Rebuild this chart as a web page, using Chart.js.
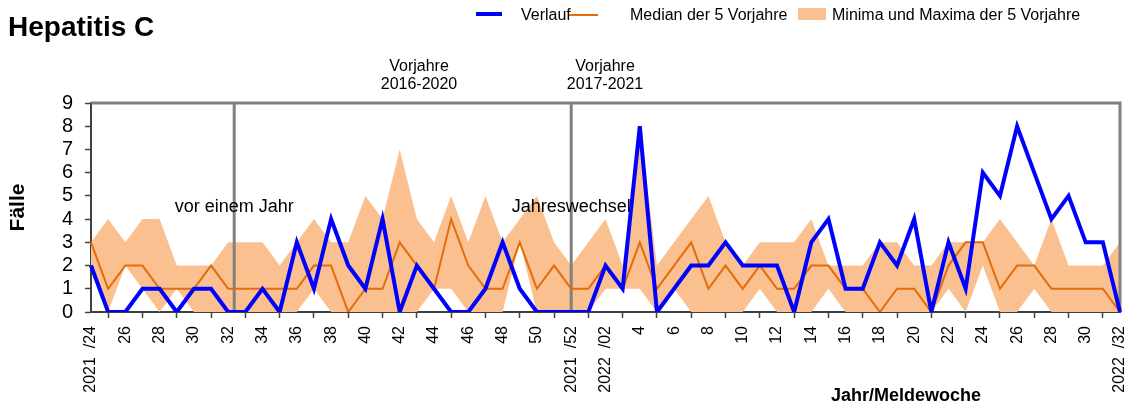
<!DOCTYPE html>
<html>
<head>
<meta charset="utf-8">
<script src="https://cdn.jsdelivr.net/npm/chart.js@4.4.0/dist/chart.umd.min.js"></script>
<style>
  html, body { margin: 0; padding: 0; background: #fff; }
  #wrap { position: relative; width: 1132px; height: 407px; }
</style>
</head>
<body>
<div id="wrap"><canvas id="chart" width="1132" height="407"></canvas></div>
<script>
// Meldewochen 2021/24 .. 2022/32
const weeks = [
    '2021/24', '2021/25', '2021/26', '2021/27', '2021/28', '2021/29', '2021/30', '2021/31', '2021/32', '2021/33',
    '2021/34', '2021/35', '2021/36', '2021/37', '2021/38', '2021/39', '2021/40', '2021/41', '2021/42', '2021/43',
    '2021/44', '2021/45', '2021/46', '2021/47', '2021/48', '2021/49', '2021/50', '2021/51', '2021/52',
    '2022/01', '2022/02', '2022/03', '2022/04', '2022/05', '2022/06', '2022/07', '2022/08', '2022/09', '2022/10',
    '2022/11', '2022/12', '2022/13', '2022/14', '2022/15', '2022/16', '2022/17', '2022/18', '2022/19', '2022/20',
    '2022/21', '2022/22', '2022/23', '2022/24', '2022/25', '2022/26', '2022/27', '2022/28', '2022/29', '2022/30',
    '2022/31', '2022/32'
];

const tickLabels = [
    '2021  /24', '', '26', '', '28', '', '30', '', '32', '', '34', '', '36', '', '38', '', '40', '', '42', '',
    '44', '', '46', '', '48', '', '50', '', '2021  /52', '', '2022  /02', '', '4', '', '6', '', '8', '', '10', '',
    '12', '', '14', '', '16', '', '18', '', '20', '', '22', '', '24', '', '26', '', '28', '', '30', '', '2022  /32'
];

const verlauf = [
    2, 0, 0, 1, 1, 0, 1, 1, 0, 0, 1, 0, 3, 1, 4, 2, 1, 4, 0, 2,
    1, 0, 0, 1, 3, 1, 0, 0, 0, 0, 2, 1, 8, 0, 1, 2, 2, 3, 2, 2,
    2, 0, 3, 4, 1, 1, 3, 2, 4, 0, 3, 1, 6, 5, 8, 6, 4, 5, 3, 3, 0
];

const median5 = [
    3, 1, 2, 2, 1, 1, 1, 2, 1, 1, 1, 1, 1, 2, 2, 0, 1, 1, 3, 2,
    1, 4, 2, 1, 1, 3, 1, 2, 1, 1, 2, 1, 3, 1, 2, 3, 1, 2, 1, 2,
    1, 1, 2, 2, 1, 1, 0, 1, 1, 0, 2, 3, 3, 1, 2, 2, 1, 1, 1, 1, 0
];

const min5 = [
    2, 0, 2, 1, 0, 1, 0, 0, 0, 0, 0, 0, 0, 1, 0, 0, 0, 0, 0, 0,
    1, 1, 0, 0, 0, 3, 0, 0, 0, 0, 1, 1, 1, 0, 1, 0, 0, 0, 0, 1,
    0, 0, 0, 1, 0, 0, 0, 0, 0, 0, 1, 0, 2, 0, 0, 1, 0, 0, 0, 0, 0
];

const max5 = [
    3, 4, 3, 4, 4, 2, 2, 2, 3, 3, 3, 2, 3, 4, 3, 3, 5, 4, 7, 4,
    3, 5, 3, 5, 3, 4, 5, 3, 2, 3, 4, 2, 8, 2, 3, 4, 5, 3, 2, 3,
    3, 3, 4, 2, 2, 2, 3, 3, 2, 2, 3, 3, 3, 4, 3, 2, 4, 2, 2, 2, 3
];

// vertical separators (category index) with their captions
const markerIndex = [8.35, 28];
const markerText = ['vor einem Jahr', 'Jahreswechsel'];

const FONT = '"Liberation Sans", Arial, sans-serif';
Chart.defaults.font.family = FONT;
Chart.defaults.color = '#000';

const decorations = {
    id: 'decorations',
    afterDatasetDraw(chart, args) {
        if (args.index !== 2) return; // right after the min/max band
        const { ctx, chartArea: a, scales: { x, y } } = chart;
        ctx.save();
        ctx.strokeStyle = '#808080';
        ctx.lineWidth = 3;
        ctx.beginPath();
        ctx.moveTo(a.left, a.top);
        ctx.lineTo(a.right, a.top);
        ctx.lineTo(a.right, a.bottom);
        ctx.stroke();
        markerIndex.forEach(i => {
            const px = x.getPixelForValue(i);
            ctx.beginPath();
            ctx.moveTo(px, a.top);
            ctx.lineTo(px, a.bottom);
            ctx.stroke();
        });
        ctx.fillStyle = '#000';
        ctx.font = '18px ' + FONT;
        ctx.textAlign = 'center';
        ctx.textBaseline = 'middle';
        markerIndex.forEach((i, k) => {
            ctx.fillText(markerText[k], x.getPixelForValue(i), y.getPixelForValue(4.5));
        });
        ctx.restore();
    },
    afterDraw(chart) {
        const ctx = chart.ctx;
        ctx.save();
        ctx.fillStyle = '#000';
        ctx.textBaseline = 'alphabetic';
        ctx.textAlign = 'left';
        ctx.font = 'bold 28px ' + FONT;
        ctx.fillText('Hepatitis C', 8, 36);

        // legend
        ctx.lineWidth = 4;
        ctx.strokeStyle = '#0000ff';
        ctx.beginPath(); ctx.moveTo(476, 14); ctx.lineTo(502, 14); ctx.stroke();
        ctx.lineWidth = 2;
        ctx.strokeStyle = '#e46c0a';
        ctx.beginPath(); ctx.moveTo(568, 15); ctx.lineTo(598, 15); ctx.stroke();
        ctx.fillStyle = '#fac090';
        ctx.fillRect(798, 8, 28, 12);
        ctx.fillStyle = '#000';
        ctx.font = '16px ' + FONT;
        ctx.fillText('Verlauf', 521, 20);
        ctx.fillText('Median der 5 Vorjahre', 630, 20);
        ctx.fillText('Minima und Maxima der 5 Vorjahre', 832, 20);

        // reference period captions
        ctx.textAlign = 'center';
        ctx.textBaseline = 'middle';
        ctx.fillText('Vorjahre', 419, 67);
        ctx.fillText('2016-2020', 419, 85);
        ctx.fillText('Vorjahre', 605, 67);
        ctx.fillText('2017-2021', 605, 85);

        ctx.font = 'bold 18px ' + FONT;
        ctx.fillText('Jahr/Meldewoche', 906, 396);
        ctx.restore();
    }
};

new Chart(document.getElementById('chart').getContext('2d'), {
    type: 'line',
    data: {
        labels: weeks,
        datasets: [
            { label: 'Verlauf', data: verlauf, borderColor: '#0000ff', borderWidth: 4, pointRadius: 0, tension: 0, fill: false },
            { label: 'Median der 5 Vorjahre', data: median5, borderColor: '#e46c0a', borderWidth: 2, pointRadius: 0, tension: 0, fill: false },
            { label: 'Minima und Maxima der 5 Vorjahre', data: max5, borderColor: 'rgba(0,0,0,0)', borderWidth: 0,
              backgroundColor: '#fac090', pointRadius: 0, tension: 0, fill: '+1' },
            { label: 'Minima', data: min5, borderColor: 'rgba(0,0,0,0)', borderWidth: 0, pointRadius: 0, tension: 0, fill: false }
        ]
    },
    options: {
        responsive: false,
        animation: false,
        layout: { padding: { top: 103, right: 12, left: 0, bottom: 0 } },
        plugins: {
            legend: { display: false },
            tooltip: { enabled: false }
        },
        scales: {
            x: {
                offset: false,
                grid: {
                    drawOnChartArea: false,
                    tickLength: 6,
                    tickWidth: 1.5,
                    tickColor: c => (c.index % 2 ? '#404040' : 'rgba(0,0,0,0)')
                },
                border: { color: '#404040', width: 2 },
                ticks: {
                    autoSkip: false,
                    minRotation: 90,
                    maxRotation: 90,
                    padding: 8,
                    color: '#000',
                    font: { size: 16 },
                    callback: (v, i) => tickLabels[i]
                },
                afterFit: s => { s.height = 95; s.paddingLeft = 0; s.paddingRight = 0; }
            },
            y: {
                min: 0,
                max: 9,
                grid: { drawOnChartArea: false, tickLength: 6, tickWidth: 1.5, tickColor: '#404040' },
                border: { color: '#404040', width: 2 },
                ticks: { stepSize: 1, autoSkip: false, padding: 12, color: '#000', font: { size: 20 } },
                title: { display: true, text: 'Fälle', color: '#000', font: { size: 21, weight: 'bold' }, padding: { top: 6, bottom: 0 } },
                afterFit: s => { s.width = 91; s.paddingTop = 0; s.paddingBottom = 0; }
            }
        }
    },
    plugins: [decorations]
});
</script>
</body>
</html>
